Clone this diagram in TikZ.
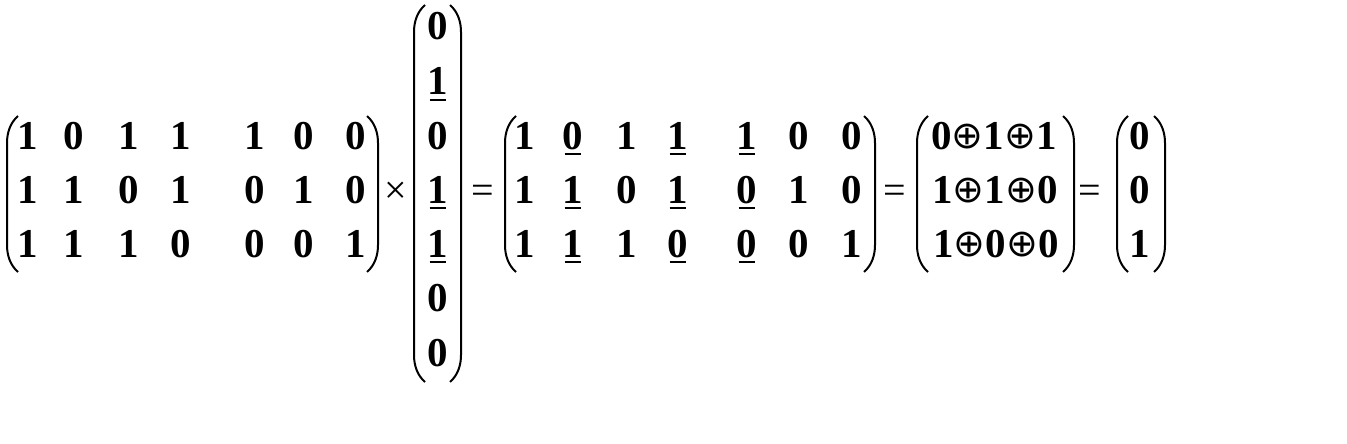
\documentclass[tikz,border=0pt]{standalone}
\usepackage{fontspec}
\setmainfont{Liberation Serif}
\newfontfamily\oplusfont{DejaVu Sans}
\newcommand\xorsym{\raisebox{1pt}{\oplusfont\mdseries\fontsize{38}{44}\selectfont ⊕}}
\newcommand\lparen[3]{\draw[parline] (#1+11,#2) .. controls (#1+3,#2+7) and (#1,#2+17) .. (#1,#2+27) -- (#1,#3-27) .. controls (#1,#3-17) and (#1+3,#3-7) .. (#1+11,#3);}
\newcommand\rparen[3]{\draw[parline] (#1-11,#2) .. controls (#1-3,#2+7) and (#1,#2+17) .. (#1,#2+27) -- (#1,#3-27) .. controls (#1,#3-17) and (#1-3,#3-7) .. (#1-11,#3);}
\newcommand\uline[1]{\draw[ulline] ([xshift=2pt,yshift=-5pt]#1.base west) -- ([xshift=-2pt,yshift=-5pt]#1.base east);}
\begin{document}
\begin{tikzpicture}[x=1pt,y=-1pt,
  dig/.style={anchor=base,inner sep=0pt,font=\fontsize{41}{44}\selectfont\bfseries},
  op/.style={anchor=base,inner sep=0pt,font=\fontsize{40}{44}\selectfont},
  parline/.style={line width=2pt},
  ulline/.style={line width=2pt}]
\useasboundingbox (0,0) rectangle (1347,444);
% matrix 1
\lparen{7}{116}{272}
\rparen{378}{116}{272}
\foreach \x/\a/\b/\c [count=\i] in {28/1/1/1, 74/0/1/1, 129/1/0/1, 181/1/1/0, 255/1/0/0, 304/0/1/0, 356/0/0/1} {
  \node[dig] (A-1-\i) at (\x,149) {\a};
  \node[dig] (A-2-\i) at (\x,203) {\b};
  \node[dig] (A-3-\i) at (\x,257) {\c};
}
\node[op] (times) at (396,203) {×};
% vector
\lparen{414}{5}{382}
\rparen{461}{5}{382}
\foreach \v/\y [count=\k] in {0/40, 1/94.5, 0/149, 1/203, 1/257, 0/311.5, 0/366} {
  \node[dig] (V-\k) at (438,\y) {\v};
}
\uline{V-2}\uline{V-4}\uline{V-5}
\node[op] (eq1) at (483,203) {=};
% matrix 3
\lparen{505}{116}{272}
\rparen{875}{116}{272}
\foreach \x/\a/\b/\c [count=\i] in {525/1/1/1, 573/0/1/1, 627/1/0/1, 678/1/1/0, 747/1/0/0, 799/0/1/0, 852/0/0/1} {
  \node[dig] (B-1-\i) at (\x,149) {\a};
  \node[dig] (B-2-\i) at (\x,203) {\b};
  \node[dig] (B-3-\i) at (\x,257) {\c};
}
\foreach \i in {2,4,5} {\uline{B-1-\i}\uline{B-2-\i}\uline{B-3-\i}}
\node[op] (eq2) at (895,203) {=};
% matrix 4
\lparen{917}{116}{272}
\rparen{1074}{116}{272}
\node[dig] (C-1) at (994,149) {0\xorsym1\xorsym1};
\node[dig] (C-2) at (995,203) {1\xorsym1\xorsym0};
\node[dig] (C-3) at (996,257) {1\xorsym0\xorsym0};
\node[op] (eq3) at (1090,203) {=};
% matrix 5
\lparen{1117}{116}{272}
\rparen{1165}{116}{272}
\node[dig] (D-1) at (1140,149) {0};
\node[dig] (D-2) at (1140,203) {0};
\node[dig] (D-3) at (1140,257) {1};
\end{tikzpicture}
\end{document}
